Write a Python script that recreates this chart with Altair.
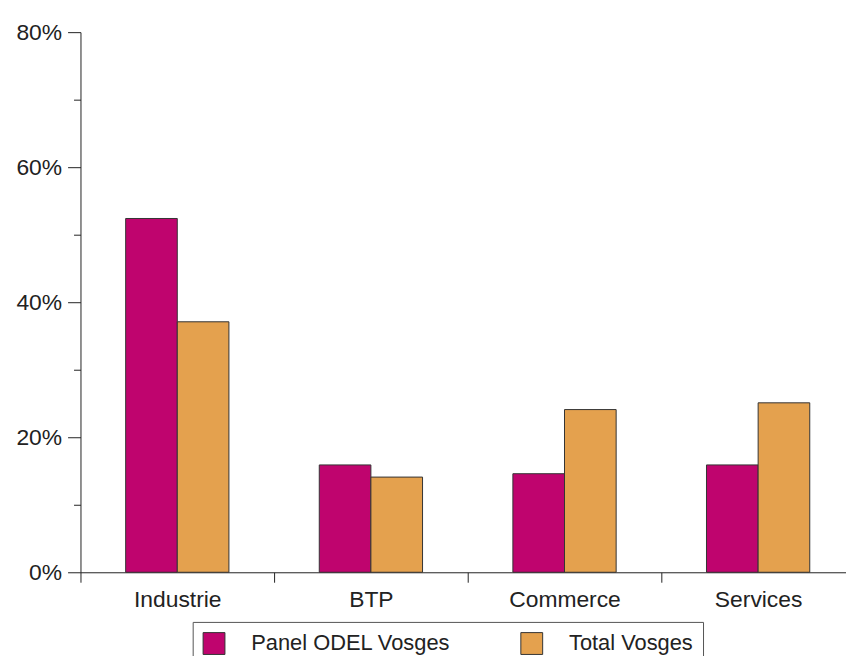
import altair as alt
import pandas as pd

categories = ["Industrie", "BTP", "Commerce", "Services"]
series = ["Panel ODEL Vosges", "Total Vosges"]
panel_values = [52.4, 15.9, 14.6, 15.9]
total_values = [37.1, 14.1, 24.1, 25.1]
colors = ["#BF046E", "#E4A14E"]
y_ticks = [0, 10, 20, 30, 40, 50, 60, 70, 80]

rows = []
for c, p, t in zip(categories, panel_values, total_values):
    rows.append({"cat": c, "series": series[0], "value": p})
    rows.append({"cat": c, "series": series[1], "value": t})
df = pd.DataFrame(rows)

FONT = "Liberation Sans"
INK = "#222222"

chart = alt.Chart(df).mark_bar(stroke="#333333", strokeWidth=1).encode(
    x=alt.X(
        "cat:N", sort=categories, title=None,
        scale=alt.Scale(paddingInner=0, paddingOuter=0),
        axis=alt.Axis(tickBand="extent", tickSize=10, labelAngle=0, labelPadding=6,
                      labelFontSize=23, labelFont=FONT, labelColor=INK,
                      domainColor=INK, tickColor=INK, grid=False),
    ),
    xOffset=alt.XOffset("series:N", sort=series,
                        scale=alt.Scale(paddingInner=0, paddingOuter=0.875)),
    y=alt.Y(
        "value:Q", title=None,
        scale=alt.Scale(domain=[0, 80], nice=False),
        axis=alt.Axis(values=y_ticks,
                      labelExpr="datum.value % 20 === 0 ? datum.value + '%' : ''",
                      tickSize={"condition": {"test": "datum.value % 20 !== 0", "value": 7}, "value": 13},
                      labelPadding=6, labelFontSize=23, labelFont=FONT, labelColor=INK,
                      domainColor=INK, tickColor=INK, grid=False),
    ),
    color=alt.Color(
        "series:N", sort=series,
        scale=alt.Scale(domain=series, range=colors),
        legend=alt.Legend(title=None, orient="none", legendX=113, legendY=594,
                          direction="horizontal", strokeColor="#555555", padding=10,
                          symbolType="square", symbolSize=484,
                          symbolStrokeColor="#333333", symbolStrokeWidth=1,
                          symbolOpacity=1, labelFontSize=22, labelFont=FONT,
                          labelColor=INK, labelOffset=26, columnPadding=68,
                          labelLimit=400),
    ),
).properties(
    width=780, height=544,
    autosize=alt.AutoSizeParams(type="none"),
    padding={"left": 73, "top": 22, "right": -9, "bottom": 82},
).configure_view(stroke=None)

chart.save("out.html", embed_options={"renderer": "svg", "actions": False})
